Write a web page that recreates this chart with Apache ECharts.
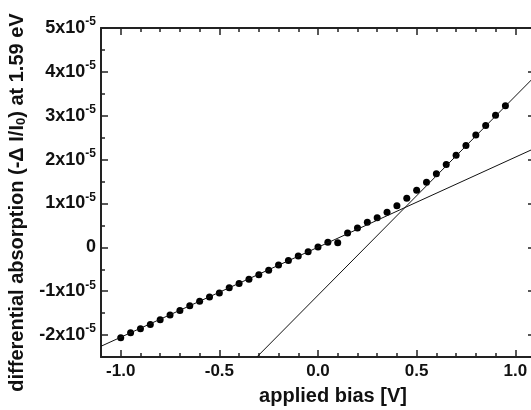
<!DOCTYPE html>
<html>
<head>
<meta charset="utf-8">
<script src="https://cdn.jsdelivr.net/npm/echarts@6/dist/echarts.min.js"></script>
<style>
  html, body { margin: 0; padding: 0; background: #fff; }
  #chart { width: 531px; height: 410px; }
</style>
</head>
<body>
<div id="chart"></div>
<script>
// measured points, bias in V, signal in units of dI/I0
const bias = [
  -1.00, -0.95, -0.90, -0.85, -0.80, -0.75, -0.70, -0.65, -0.60, -0.55,
  -0.50, -0.45, -0.40, -0.35, -0.30, -0.25, -0.20, -0.15, -0.10, -0.05,
  0.00, 0.05, 0.10, 0.15, 0.20, 0.25, 0.30, 0.35, 0.40, 0.45,
  0.50, 0.55, 0.60, 0.65, 0.70, 0.75, 0.80, 0.85, 0.90, 0.95
];
const absorption = [
  -2.06e-5, -1.95e-5, -1.855e-5, -1.757e-5, -1.65e-5, -1.545e-5, -1.44e-5, -1.33e-5, -1.227e-5, -1.13e-5,
  -1.04e-5, -0.92e-5, -0.825e-5, -0.727e-5, -0.627e-5, -0.52e-5, -0.40e-5, -0.30e-5, -0.196e-5, -0.098e-5,
  0.005e-5, 0.114e-5, 0.107e-5, 0.327e-5, 0.44e-5, 0.57e-5, 0.675e-5, 0.80e-5, 0.95e-5, 1.12e-5,
  1.30e-5, 1.485e-5, 1.68e-5, 1.89e-5, 2.10e-5, 2.32e-5, 2.56e-5, 2.78e-5, 3.01e-5, 3.23e-5
];
// straight line fits (end points)
const lowFitX = [-1.1, 1.1];
const lowFitY = [-2.255e-5, 2.26e-5];
const highFitX = [-0.31, 1.1];
const highFitY = [-2.5e-5, 3.9e-5];

const xRange = [-1.1, 1.1];
const yRange = [-2.5e-5, 5e-5];

const font = 'Liberation Sans, Arial, sans-serif';
const axisColor = '#222';

function zip (xs, ys) {
  return xs.map((x, i) => [x, ys[i]]);
}

// plain framing axis: line + inward ticks, no labels
function frameAxis (pos, range, split, minor) {
  return {
    type: 'value',
    position: pos,
    min: range[0],
    max: range[1],
    splitNumber: split,
    axisLine: { show: true, onZero: false, lineStyle: { color: axisColor, width: 2 } },
    axisTick: { show: true, inside: true, length: 7, lineStyle: { color: axisColor, width: 1.5 } },
    minorTick: { show: true, splitNumber: minor, length: 4, lineStyle: { color: axisColor, width: 1.5 } },
    splitLine: { show: false },
    axisLabel: { show: false }
  };
}

let chart = echarts.init(document.getElementById('chart'));
chart.setOption({
  animation: false,
  grid: {
    left: 101,
    top: 28,
    right: -4,
    bottom: 53,
    containLabel: false,
    outerBoundsMode: 'none'
  },
  xAxis: [Object.assign(frameAxis('bottom', xRange, 5, 5), {
    name: 'applied bias [V]',
    nameLocation: 'middle',
    nameGap: 29,
    nameTextStyle: {
      fontFamily: font,
      fontWeight: 'bold',
      fontSize: 20,
      color: '#111',
      padding: [0, 0, 0, 30]
    },
    axisLabel: {
      show: true,
      margin: 6,
      fontFamily: font,
      fontWeight: 'bold',
      fontSize: 17,
      color: '#111',
      formatter: function (v) {
        return Math.abs(v * 2 - Math.round(v * 2)) < 1e-6 ? v.toFixed(1) : '';
      }
    }
  }), frameAxis('top', xRange, 5, 5)],
  yAxis: [Object.assign(frameAxis('left', yRange, 7, 2), {
    name: 'differential absorption (-\u0394 I/I{sub|0}) at 1.59 eV',
    nameLocation: 'middle',
    nameGap: 68,
    nameTextStyle: {
      fontFamily: font,
      fontWeight: 'bold',
      fontSize: 20,
      color: '#111',
      padding: [0, 20, 0, 0],
      rich: {
        sub: { fontFamily: font, fontWeight: 'bold', fontSize: 13, color: '#111', padding: [9, 0, 0, 0] }
      }
    },
    axisLabel: {
      show: true,
      margin: 5,
      formatter: function (v) {
        let n = Math.round(v * 1e5);
        if (Math.abs(v * 1e5 - n) > 1e-6) return '';
        if (n === 0) return '{b|0}';
        return '{b|' + n + 'x10}{s|-5}';
      },
      rich: {
        b: { fontFamily: font, fontWeight: 'bold', fontSize: 18, color: '#111' },
        s: { fontFamily: font, fontWeight: 'bold', fontSize: 12, color: '#111', padding: [0, 0, 12, 0] }
      }
    }
  }), frameAxis('right', yRange, 7, 2)],
  series: [{
    type: 'line',
    data: zip(lowFitX, lowFitY),
    showSymbol: false,
    lineStyle: { color: '#111', width: 1 }
  }, {
    type: 'line',
    data: zip(highFitX, highFitY),
    showSymbol: false,
    lineStyle: { color: '#111', width: 1 }
  }, {
    type: 'scatter',
    data: zip(bias, absorption),
    symbol: 'circle',
    symbolSize: 7,
    itemStyle: { color: '#000', opacity: 1 }
  }]
});
window.addEventListener('resize', () => { chart.resize(); });
</script>
</body>
</html>
